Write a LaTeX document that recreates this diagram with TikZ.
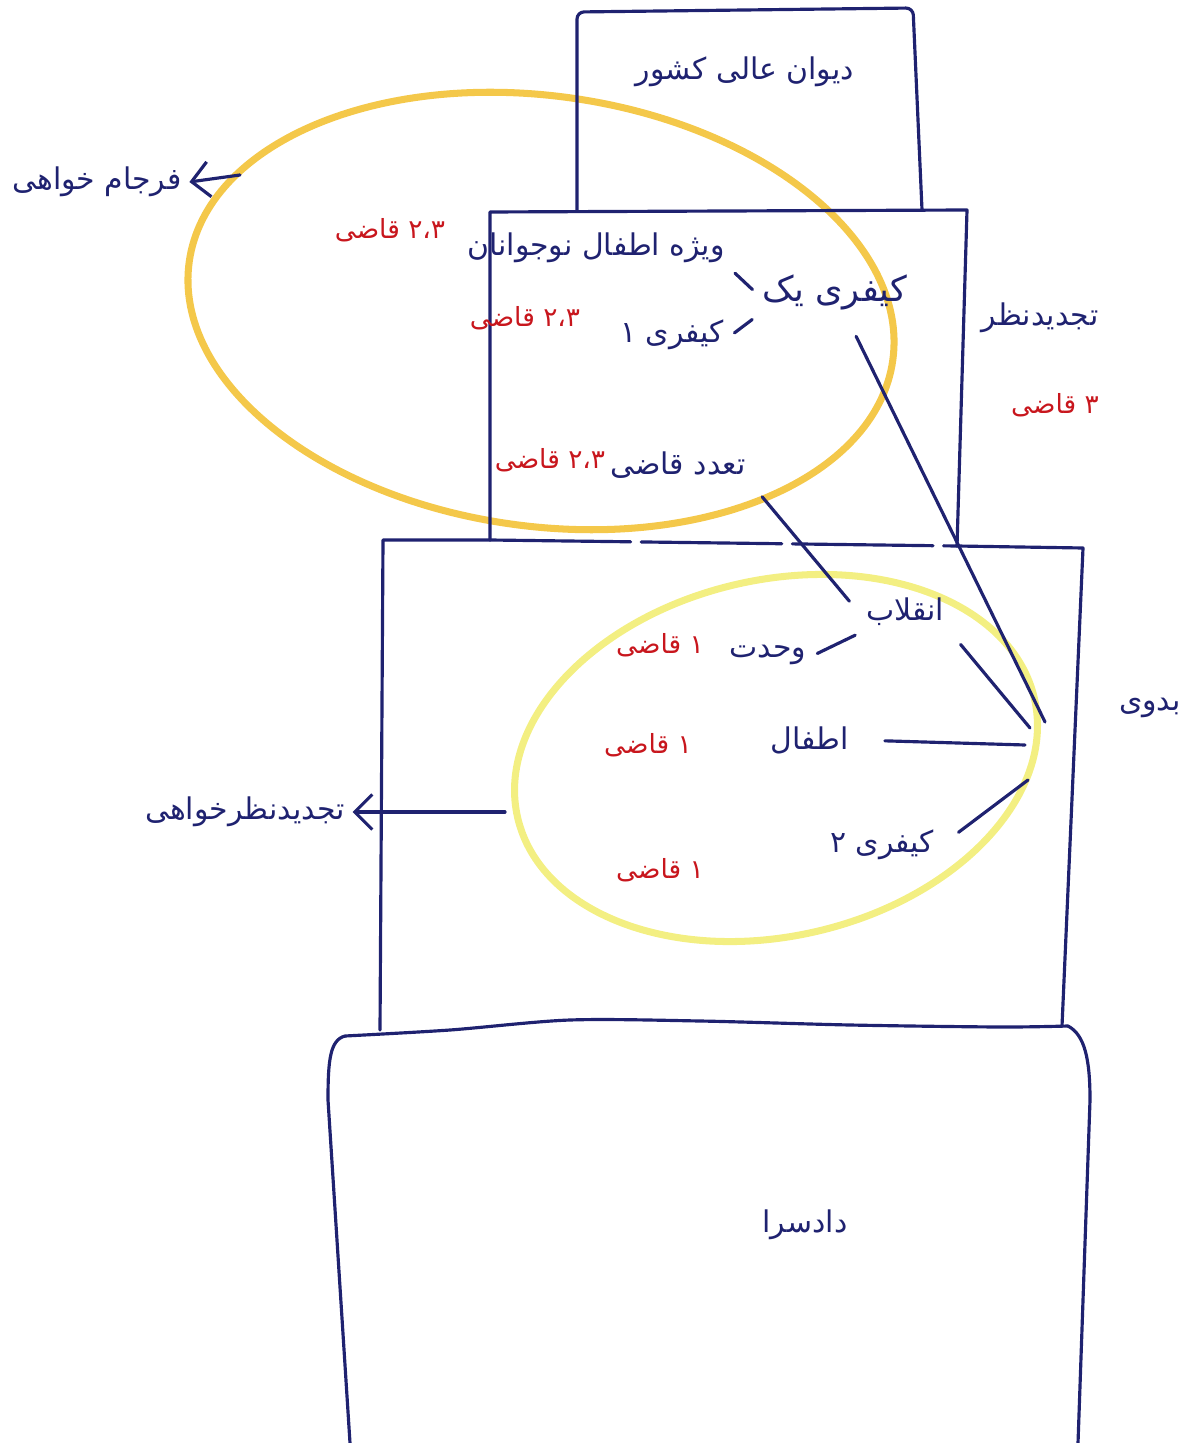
\documentclass[tikz,border=0pt]{standalone}
\usepackage{fontspec}
\usetikzlibrary{arrows.meta}
\newfontfamily\farsi[Script=Arabic]{DejaVu Sans}
\TeXXeTstate=1
\newcommand{\fatxt}[1]{\beginR #1\endR}
\definecolor{ink}{HTML}{1F2270}
\definecolor{redink}{HTML}{C8161D}
\definecolor{amber}{HTML}{F4C84A}
\definecolor{lemon}{HTML}{F3EF82}

\begin{document}
\begin{tikzpicture}[x=0.01cm,y=-0.01cm,
    court/.style={text=ink,font=\farsi\fontsize{8.5}{10}\selectfont,inner sep=2pt},
    judges/.style={text=redink,font=\farsi\fontsize{7.5}{9}\selectfont,inner sep=2pt},
    pen/.style={draw=ink,line width=0.9pt,line cap=round,line join=round},
    link/.style={pen,shorten <=1pt,shorten >=1pt}]
  \useasboundingbox (0,0) rectangle (1198,1443);

  \draw[amber,line width=2pt,rotate around={-8:(541,311)}] (541,311) ellipse [x radius=3.55cm,y radius=2.15cm];
  \draw[lemon,line width=2pt,rotate around={13:(776,758)}] (776,758) ellipse [x radius=2.65cm,y radius=1.78cm];

  \draw[pen,rounded corners=2pt] (577,210) -- (577,12) -- (913,8) -- (922,210);
  \draw[pen] (490,540) -- (490,212) -- (967,210) -- (957,546);
  \draw[pen,dash pattern=on 40pt off 3pt] (490,540) -- (957,546);
  \draw[pen] (380,1030) -- (383,540) -- (490,540);
  \draw[pen] (957,546) -- (1083,548) -- (1062,1026);
  \draw[pen] plot[smooth] coordinates {(345,1036) (450,1030) (570,1020) (700,1021) (850,1025) (1000,1027) (1068,1026)};
  \draw[pen] (345,1036) .. controls (330,1040) and (328,1060) .. (328,1100) -- (350,1443);
  \draw[pen] (1068,1026) .. controls (1085,1035) and (1090,1060) .. (1090,1100) -- (1078,1443);

  \node[court] (divan) at (745,72) {\fatxt{دیوان عالی کشور}};
  \node[court] (farjam) at (97,182) {\fatxt{فرجام خواهی}};
  \node[judges] (jtopa) at (390,230) {\fatxt{۲،۳ قاضی}};
  \node[court] (vizhe) at (596,248) {\fatxt{ویژه اطفال نوجوانان}};
  \node[court,font=\farsi\fontsize{10}{12}\selectfont] (kyk) at (835,292) {\fatxt{کیفری یک}};
  \node[court] (kyek) at (672,335) {\fatxt{کیفری ۱}};
  \node[judges] (jtopb) at (525,318) {\fatxt{۲،۳ قاضی}};
  \node[court] (taddod) at (678,465) {\fatxt{تعدد قاضی}};
  \node[judges] (jtopc) at (550,460) {\fatxt{۲،۳ قاضی}};
  \node[court] (tajdid) at (1040,318) {\fatxt{تجدیدنظر}};
  \node[judges] (jtaj) at (1055,405) {\fatxt{۳ قاضی}};
  \node[court] (enghelab) at (905,612) {\fatxt{انقلاب}};
  \node[court] (vahdat) at (768,655) {\fatxt{وحدت}};
  \node[judges] (jlowa) at (660,645) {\fatxt{۱ قاضی}};
  \node[court] (atfal) at (810,740) {\fatxt{اطفال}};
  \node[judges] (jlowb) at (648,745) {\fatxt{۱ قاضی}};
  \node[court] (kdo) at (882,845) {\fatxt{کیفری ۲}};
  \node[judges] (jlowc) at (660,870) {\fatxt{۱ قاضی}};
  \node[court] (badvi) at (1150,708) {\fatxt{بدوی}};
  \node[court] (tajkh) at (245,812) {\fatxt{تجدیدنظرخواهی}};
  \node[court] (dadsara) at (805,1225) {\fatxt{دادسرا}};

  \coordinate (upcurve) at (240,175);
  \coordinate (lowcurve) at (505,812);
  \coordinate (hubA) at (1045,722);
  \coordinate (hubB) at (1030,728);
  \coordinate (hubC) at (1025,745);
  \coordinate (hubD) at (1028,780);

  \draw[link] (vizhe.south east) -- (kyk.west);
  \draw[link] (kyek.east) -- (kyk.south west);
  \draw[pen,shorten <=6pt] (kyk.-65) -- (hubA);
  \draw[pen,shorten <=4pt,shorten >=4pt] (taddod.south east) -- (enghelab.west);
  \draw[link] (vahdat.east) -- (enghelab.south west);
  \draw[pen,shorten <=4pt] (enghelab.south east) -- (hubB);
  \draw[pen,shorten <=8pt] (atfal.east) -- (hubC);
  \draw[pen,shorten <=6pt] (kdo.east) -- (hubD);
  \draw[pen,-{Straight Barb[length=5pt]}] (upcurve) -- (farjam.east);
  \draw[pen,-{Straight Barb[length=5pt]}] (lowcurve) -- (tajkh.east);
\end{tikzpicture}
\end{document}
